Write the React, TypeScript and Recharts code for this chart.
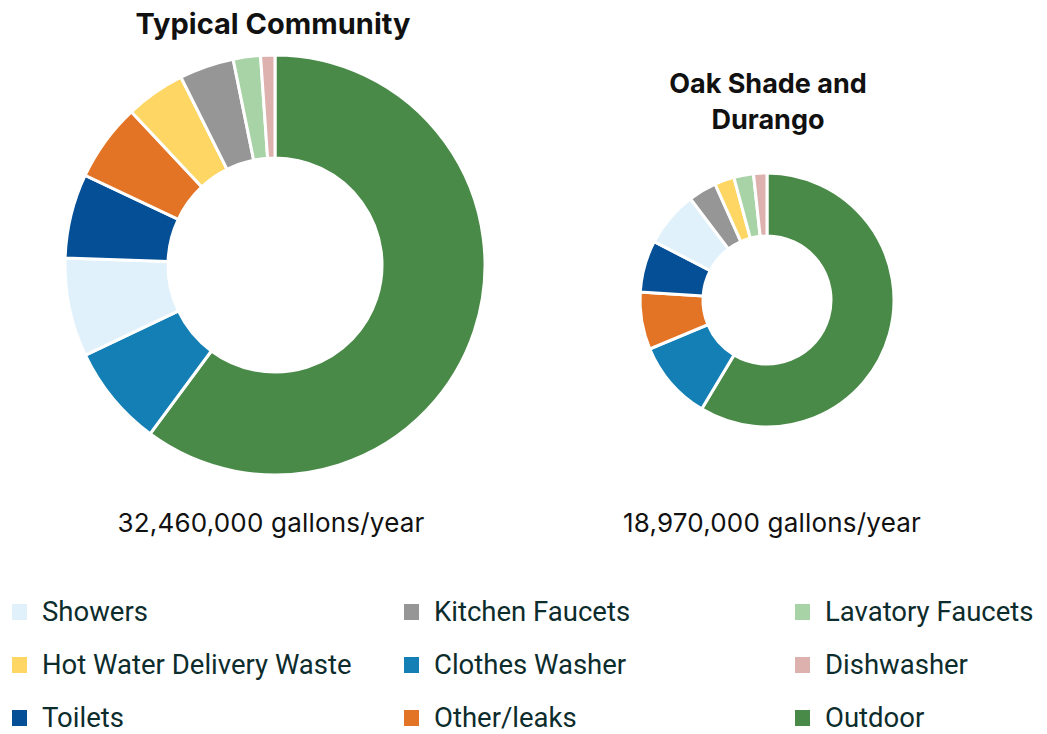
import React from 'react';
import { PieChart, Pie, Cell } from 'recharts';

const typicalCategories = ['Outdoor', 'Clothes Washer', 'Showers', 'Toilets', 'Other/leaks', 'Hot Water Delivery Waste', 'Kitchen Faucets', 'Lavatory Faucets', 'Dishwasher'];
const typicalValues = [60.2, 7.8, 7.6, 6.5, 6.0, 4.6, 4.2, 2.1, 1.1];

const oakCategories = ['Outdoor', 'Clothes Washer', 'Other/leaks', 'Toilets', 'Showers', 'Kitchen Faucets', 'Hot Water Delivery Waste', 'Lavatory Faucets', 'Dishwasher'];
const oakValues = [58.6, 10.1, 7.3, 6.6, 7.1, 3.6, 2.5, 2.5, 1.7];

const legendOrder = ['Showers', 'Kitchen Faucets', 'Lavatory Faucets', 'Hot Water Delivery Waste', 'Clothes Washer', 'Dishwasher', 'Toilets', 'Other/leaks', 'Outdoor'];

const colors: Record<string, string> = {
  'Outdoor': '#4A8A48',
  'Clothes Washer': '#137FB4',
  'Showers': '#E0F1FB',
  'Toilets': '#044F96',
  'Other/leaks': '#E47425',
  'Hot Water Delivery Waste': '#FDD664',
  'Kitchen Faucets': '#969696',
  'Lavatory Faucets': '#A8D3A6',
  'Dishwasher': '#DDB2AE',
};

const titles = ['Typical Community', 'Oak Shade and', 'Durango'];
const totals = ['32,460,000 gallons/year', '18,970,000 gallons/year'];

const typicalData = typicalCategories.map((name, i) => ({ name, value: typicalValues[i] }));
const oakData = oakCategories.map((name, i) => ({ name, value: oakValues[i] }));

const titleStyle: React.CSSProperties = {
  position: 'absolute', fontFamily: 'Inter, sans-serif', fontWeight: 700, color: '#111', whiteSpace: 'nowrap', transform: 'translateX(-50%)', textAlign: 'center',
};
const totalStyle: React.CSSProperties = {
  position: 'absolute', fontFamily: 'Inter, sans-serif', fontSize: 26, lineHeight: '30px', color: '#111', whiteSpace: 'nowrap', transform: 'translateX(-50%)', letterSpacing: 0.2,
};

export default function App() {
  const colX = [12, 404, 795];
  const rowY = [600, 653, 706];
  return (
    <div style={{ position: 'absolute', left: 0, top: 0, width: 1047, height: 734, background: '#fff', overflow: 'hidden' }}>
      <PieChart width={1047} height={734} style={{ position: 'absolute', left: 0, top: 0 }}>
        <Pie data={typicalData} dataKey="value" nameKey="name" cx={270} cy={260} innerRadius={107} outerRadius={210}
          startAngle={90} endAngle={-270} stroke="#fff" strokeWidth={3} isAnimationActive={false}>
          {typicalData.map((d) => <Cell key={d.name} fill={colors[d.name]} />)}
        </Pie>
        <Pie data={oakData} dataKey="value" nameKey="name" cx={762} cy={295} innerRadius={64} outerRadius={127}
          startAngle={90} endAngle={-270} stroke="#fff" strokeWidth={3} isAnimationActive={false}>
          {oakData.map((d) => <Cell key={d.name} fill={colors[d.name]} />)}
        </Pie>
      </PieChart>
      <div style={{ ...titleStyle, left: 273, top: 6, fontSize: 29, lineHeight: '36px' }}>{titles[0]}</div>
      <div style={{ ...titleStyle, left: 768, top: 66, fontSize: 27, lineHeight: '36px' }}>{titles[1]}<br />{titles[2]}</div>
      <div style={{ ...totalStyle, left: 271, top: 508 }}>{totals[0]}</div>
      <div style={{ ...totalStyle, left: 772, top: 508 }}>{totals[1]}</div>
      {legendOrder.map((name, i) => {
        const c = i % 3;
        const r = Math.floor(i / 3);
        return (
          <div key={name} style={{ position: 'absolute', left: colX[c], top: rowY[r], height: 24, display: 'flex', alignItems: 'center', whiteSpace: 'nowrap' }}>
            <span style={{ display: 'inline-block', width: 15, height: 16, background: colors[name], marginRight: 15 }} />
            <span style={{ fontFamily: 'Roboto, sans-serif', fontSize: 27.5, lineHeight: '24px', color: '#0D2C2C' }}>{name}</span>
          </div>
        );
      })}
    </div>
  );
}
